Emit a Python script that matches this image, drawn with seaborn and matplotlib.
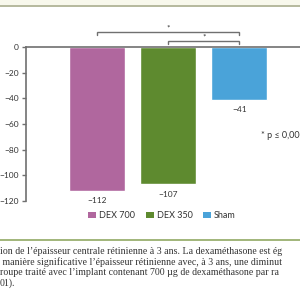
import matplotlib
matplotlib.use("Agg")
import matplotlib.pyplot as plt
import seaborn as sns
import pandas as pd
from matplotlib.patches import Patch
from matplotlib.lines import Line2D

groups = ["DEX 700", "DEX 350", "Sham"]
values = [-112, -107, -41]
value_labels = ["\u2212112", "\u2212107", "\u221241"]
colors = ["#b0679e", "#5e8a2f", "#4aa3d9"]
yticks = [0, -20, -40, -60, -80, -100, -120]
ytick_labels = ["0", "\u221220", "\u221240", "\u221260", "\u221280", "\u2212100", "\u2212120"]
caption_lines = [
    "ion de l\u2019épaisseur centrale rétinienne à 3 ans. La dexaméthasone est ég",
    " manière significative l\u2019épaisseur rétinienne avec, à 3 ans, une diminut",
    "roupe traité avec l\u2019implant contenant 700 µg de dexaméthasone par ra",
    "01).",
]

sns.set_theme(style="white")
plt.rcParams["font.family"] = ["Lato", "DejaVu Sans"]

W = H = 300
fig = plt.figure(figsize=(3, 3), dpi=100)

def fx(px):
    return px / W

def fy(py):
    return 1 - py / H

# axes: left spine at x=26, zero at y=47, -120 at y=201
ax = fig.add_axes([fx(26), fy(201), 1 - fx(26), fy(47) - fy(201)])

df = pd.DataFrame({"group": groups, "value": values})
sns.barplot(data=df, x="group", y="value", hue="group", palette=colors,
            width=0.79, dodge=False, legend=False, ax=ax, saturation=1)
ax.set_xlim(-1.0, 2.852)
ax.set_ylim(-120, 0)
ax.set_yticks(yticks)
ax.set_yticklabels(ytick_labels, fontsize=6, color="#333333")
ax.set_xticks([])
ax.set_xlabel("")
ax.set_ylabel("")
for s in ["bottom", "right"]:
    ax.spines[s].set_visible(False)
for s in ["left", "top"]:
    ax.spines[s].set_color("#707070")
    ax.spines[s].set_linewidth(1.2)
ax.tick_params(axis="y", direction="out", length=3, width=1, color="#707070", pad=2, left=True)

for i, (v, lab) in enumerate(zip(values, value_labels)):
    ax.annotate(lab, xy=(i, v), xytext=(0, -4.5), textcoords="offset points",
                ha="center", va="top", fontsize=6, color="#333333")

# significance brackets (data units)
def bracket(x0, x1, y, drop):
    ax.plot([x0, x0, x1, x1], [y - drop, y, y, y - drop], color="#707070",
            lw=1, clip_on=False, solid_joinstyle="miter")

bracket(0, 2, 11.7, 2.5)
ax.text(1.0, 12.0, "*", ha="center", va="bottom", fontsize=6, color="#333333", clip_on=False)
bracket(1, 2, 4.7, 2.5)
ax.text(1.5, 5.0, "*", ha="center", va="bottom", fontsize=6, color="#333333", clip_on=False)

fig.text(fx(261), fy(136), "* p \u2264 0,001", ha="left", va="center", fontsize=6.5, color="#333333")

# legend
handles = [Patch(facecolor=c, edgecolor="none") for c in colors]
fig.legend(handles, groups, loc="center", bbox_to_anchor=(fx(162), fy(216)), ncol=3,
           frameon=False, fontsize=6.5, handlelength=0.9, handleheight=0.6,
           handletextpad=0.3, columnspacing=1.2, labelcolor="#333333")

# decorative rules
fig.patches.append(plt.Rectangle((0, fy(5)), 1, 1 - fy(5), transform=fig.transFigure,
                                 facecolor="#f8f8ec", edgecolor="none"))
fig.lines.append(Line2D([0, 1], [fy(5.5), fy(5.5)], transform=fig.transFigure,
                        color="#a9ad8c", lw=1.2))
fig.lines.append(Line2D([0, 1], [fy(240), fy(240)], transform=fig.transFigure,
                        color="#9ab070", lw=1.3))

# caption
for k, line in enumerate(caption_lines):
    fig.text(fx(0), fy(251 + 10.7 * k), line, ha="left", va="center",
             fontsize=7.1, color="#333333", family=["Liberation Serif", "DejaVu Serif"])

fig.savefig("out.png", dpi=100)
